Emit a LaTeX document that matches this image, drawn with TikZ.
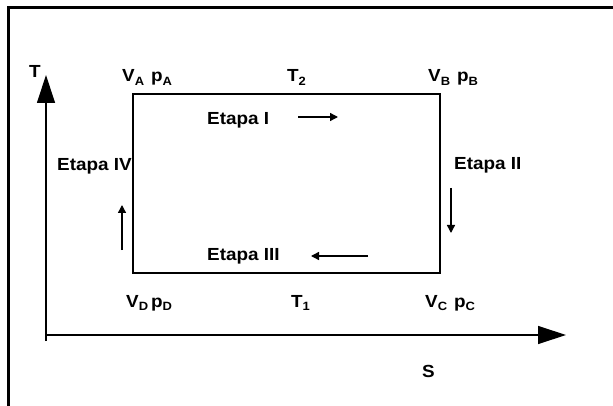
\documentclass[tikz,border=0pt]{standalone}
\usepackage{fontspec}
\setmainfont{Liberation Sans}[FakeStretch=1.08]
\usetikzlibrary{arrows.meta}
\newcommand\sbs[1]{\raisebox{-0.35ex}{\fontsize{12}{12}\selectfont #1}}
\tikzset{
  lbl/.style={anchor=base west, inner sep=0pt, font=\fontsize{17.5}{17.5}\selectfont\bfseries},
  axis/.style={line width=1.2pt, -{Triangle[length=28pt,width=18pt]}},
  flow/.style={line width=1.4pt, -{Triangle[length=8pt,width=8pt]}},
  cycle/.style={line width=1.6pt},
  frame/.style={line width=3pt}
}
\begin{document}
\begin{tikzpicture}[x=1pt,y=-1pt]
\clip (0,0) rectangle (613,406);
\fill[white] (0,0) rectangle (613,406);
\draw[frame] (8,8) rectangle (640,440);
% axes
\coordinate (ybot) at (46,341);
\coordinate (ytop) at (46,75);
\coordinate (xl) at (46,335);
\coordinate (xr) at (566,335);
\draw[axis] (ybot) -- (ytop);
\draw[axis] (xl) -- (xr);
% cycle rectangle
\coordinate (A) at (133,94);
\coordinate (B) at (440,94);
\coordinate (C) at (440,273);
\coordinate (D) at (133,273);
\draw[cycle] (A) -- (B) -- (C) -- (D) -- cycle;
% labels
\node[lbl] (T) at (29,78) {T};
\node[lbl] (VA) at (122,82) {V\sbs{A}\hspace{7pt}p\sbs{A}};
\node[lbl] (T2) at (287,82) {T\sbs{2}};
\node[lbl] (VB) at (428,82) {V\sbs{B}\hspace{7pt}p\sbs{B}};
\node[lbl] (E1) at (207,124.5) {Etapa I};
\node[lbl] (E4) at (57,170.5) {Etapa IV};
\node[lbl] (E2) at (454,169.5) {Etapa II};
\node[lbl] (E3) at (207,260.5) {Etapa III};
\node[lbl] (VD) at (126,307) {V\sbs{D}\hspace{3pt}p\sbs{D}};
\node[lbl] (T1) at (291,307) {T\sbs{1}};
\node[lbl] (VC) at (425,307) {V\sbs{C}\hspace{7pt}p\sbs{C}};
\node[lbl] (S) at (422,377) {S};
% flow arrows
\coordinate (a1s) at (298,117); \coordinate (a1e) at (338,117);
\coordinate (a2s) at (451,188); \coordinate (a2e) at (451,233);
\coordinate (a3s) at (368,256); \coordinate (a3e) at (311,256);
\coordinate (a4s) at (122,250); \coordinate (a4e) at (122,205);
\draw[flow] (a1s) -- (a1e);
\draw[flow] (a2s) -- (a2e);
\draw[flow] (a3s) -- (a3e);
\draw[flow] (a4s) -- (a4e);
\end{tikzpicture}
\end{document}
